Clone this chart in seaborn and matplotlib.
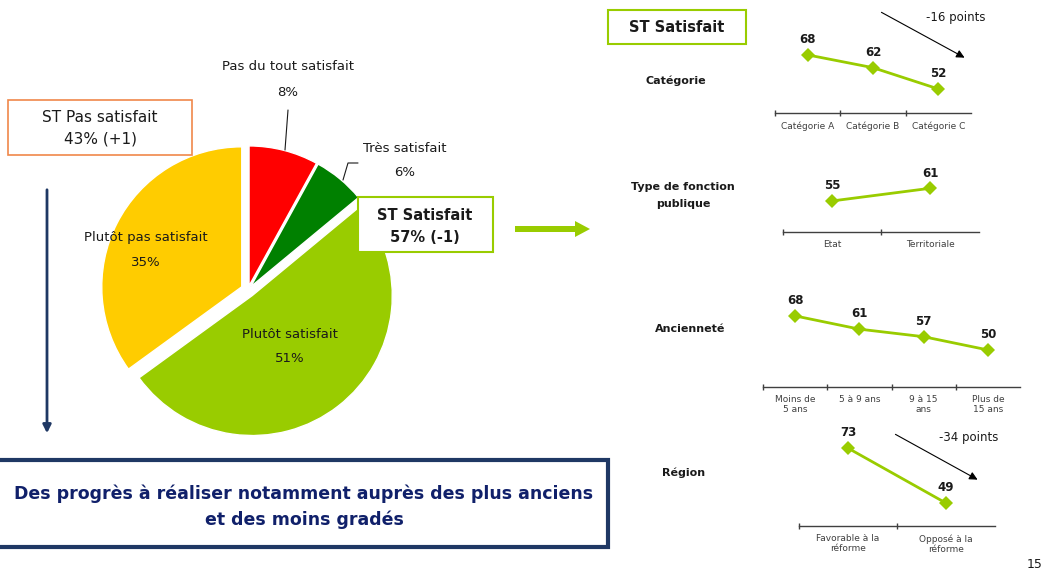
import matplotlib.pyplot as plt
import matplotlib.patches as mpatches
import seaborn as sns
import numpy as np

sns.set_style("white")
plt.rcParams['font.family'] = ['DejaVu Sans']

W, H = 1046, 575

# Pie data (clockwise from the top)
pie_labels = ['Pas du tout satisfait', 'Très satisfait', 'Plutôt satisfait', 'Plutôt pas satisfait']
pie_values = [8, 6, 51, 35]
pie_colors = ['#FF0000', '#008000', '#99CC00', '#FFCC00']

# Breakdown of "ST Satisfait"
cat_labels = ['Catégorie A', 'Catégorie B', 'Catégorie C']
cat_values = [68, 62, 52]
fp_labels = ['Etat', 'Territoriale']
fp_values = [55, 61]
anc_labels = ['Moins de\n5 ans', '5 à 9 ans', '9 à 15\nans', 'Plus de\n15 ans']
anc_values = [68, 61, 57, 50]
reg_labels = ['Favorable à la\nréforme', 'Opposé à la\nréforme']
reg_values = [73, 49]

LINE_GREEN = '#99CC00'
NAVY = '#1F3864'
TXT = '#1a1a1a'


def px_rect(x0, y0, x1, y1):
    return [x0 / W, 1 - y1 / H, (x1 - x0) / W, (y1 - y0) / H]


fig = plt.figure(figsize=(W / 100, H / 100), dpi=100)

# Pie
R = 140
cx, cy = 248, 290
A = 165
pax = fig.add_axes(px_rect(cx - A, cy - A, cx + A, cy + A))
pax.pie(pie_values, colors=pie_colors, startangle=90, counterclock=False,
        explode=[0.03, 0.03, 0.05, 0.05],
        wedgeprops=dict(edgecolor='white', linewidth=1))
pax.set_xlim(-A / R, A / R)
pax.set_ylim(-A / R, A / R)
pax.axis('off')


def small_line(rect, labels, values, ylim):
    ax = fig.add_axes(px_rect(*rect))
    x = np.arange(len(values))
    sns.lineplot(x=x, y=values, ax=ax, color=LINE_GREEN, lw=2,
                 marker='D', markersize=7, markeredgewidth=0)
    for xi, v in zip(x, values):
        ax.annotate(str(v), (xi, v), xytext=(0, 11), textcoords='offset points',
                    ha='center', va='center', fontsize=8.5, fontweight='bold', color=TXT)
    ax.set_xlim(-0.5, len(values) - 0.5)
    ax.set_ylim(*ylim)
    ax.set_yticks([])
    ax.set_xticks(x)
    ax.set_xticklabels(labels, fontsize=6.5, color='#404040', linespacing=1.1)
    ax.set_xticks(x - 0.5, minor=True)
    ax.tick_params(axis='x', which='major', bottom=True, length=0, pad=6)
    ax.tick_params(axis='x', which='minor', bottom=True, length=5, direction='inout',
                   color='#404040', width=1)
    for s in ['top', 'left', 'right']:
        ax.spines[s].set_visible(False)
    ax.spines['bottom'].set_color('#404040')
    ax.spines['bottom'].set_linewidth(1)
    ax.set_facecolor('none')
    ax.grid(False)
    return ax


small_line((775, 33, 971, 113), cat_labels, cat_values, (40.7, 78.3))
small_line((783, 152, 979, 232), fp_labels, fp_values, (40.3, 78.2))
small_line((763, 297, 1020, 387), anc_labels, anc_values, (30.4, 78.0))
small_line((799, 436, 995, 526), reg_labels, reg_values, (39.0, 78.3))

# Overlay in pixel coordinates for boxes, arrows and texts
ov = fig.add_axes([0, 0, 1, 1])
ov.set_xlim(0, W)
ov.set_ylim(H, 0)
ov.axis('off')

# Pie labels
ov.text(288, 67, 'Pas du tout satisfait', ha='center', va='center', fontsize=9.5, color=TXT)
ov.text(288, 92, '8%', ha='center', va='center', fontsize=9.5, color=TXT)
ov.plot([288, 285], [110, 150], color=TXT, lw=0.8)
ov.text(405, 148, 'Très satisfait', ha='center', va='center', fontsize=9.5, color=TXT)
ov.text(405, 172, '6%', ha='center', va='center', fontsize=9.5, color=TXT)
ov.plot([358, 348, 343], [163, 163, 180], color=TXT, lw=0.8)
ov.text(146, 238, 'Plutôt pas satisfait', ha='center', va='center', fontsize=9.5, color=TXT)
ov.text(146, 262, '35%', ha='center', va='center', fontsize=9.5, color=TXT)
ov.text(290, 334, 'Plutôt satisfait', ha='center', va='center', fontsize=9.5, color=TXT)
ov.text(290, 358, '51%', ha='center', va='center', fontsize=9.5, color=TXT)

# ST Pas satisfait box
ov.add_patch(mpatches.Rectangle((8, 100), 184, 55, facecolor='white',
                                edgecolor='#F0884A', lw=1.2))
ov.text(100, 117, 'ST Pas satisfait', ha='center', va='center', fontsize=11, color=TXT)
ov.text(100, 139, '43% (+1)', ha='center', va='center', fontsize=11, color=TXT)

# ST Satisfait box over the pie
ov.add_patch(mpatches.Rectangle((358, 197), 135, 55, facecolor='white',
                                edgecolor=LINE_GREEN, lw=1.5))
ov.text(425, 215, 'ST Satisfait', ha='center', va='center', fontsize=10.5,
        fontweight='bold', color=TXT)
ov.text(425, 238, '57% (-1)', ha='center', va='center', fontsize=10.5,
        fontweight='bold', color=TXT)

# Green arrow to the breakdown
ov.add_patch(mpatches.FancyArrow(515, 229, 75, 0, width=6, head_width=16,
                                 head_length=15, length_includes_head=True,
                                 color=LINE_GREEN, lw=0))

# Blue vertical arrow
ov.annotate('', xy=(47, 436), xytext=(47, 187),
            arrowprops=dict(arrowstyle='-|>', color=NAVY, lw=2, mutation_scale=12))

# Conclusion box
ov.add_patch(mpatches.Rectangle((-5, 460), 613, 87, facecolor='white',
                                edgecolor=NAVY, lw=3))
ov.text(304, 494, 'Des progrès à réaliser notamment auprès des plus anciens',
        ha='center', va='center', fontsize=12.5, fontweight='bold', color='#10206A')
ov.text(304, 520, 'et des moins gradés',
        ha='center', va='center', fontsize=12.5, fontweight='bold', color='#10206A')

# Right side header and row titles
ov.add_patch(mpatches.Rectangle((608, 10), 138, 34, facecolor='white',
                                edgecolor=LINE_GREEN, lw=1.5))
ov.text(677, 27, 'ST Satisfait', ha='center', va='center', fontsize=10.5,
        fontweight='bold', color=TXT)
ov.text(676, 81, 'Catégorie', ha='center', va='center', fontsize=8, fontweight='bold', color=TXT)
ov.text(683, 187, 'Type de fonction', ha='center', va='center', fontsize=8, fontweight='bold', color=TXT)
ov.text(683, 204, 'publique', ha='center', va='center', fontsize=8, fontweight='bold', color=TXT)
ov.text(690, 329, 'Ancienneté', ha='center', va='center', fontsize=8, fontweight='bold', color=TXT)
ov.text(684, 473, 'Région', ha='center', va='center', fontsize=8, fontweight='bold', color=TXT)

# Gap arrows
ov.annotate('', xy=(967, 59), xytext=(879, 11),
            arrowprops=dict(arrowstyle='-|>', color='black', lw=0.8, mutation_scale=12))
ov.text(926, 17, '-16 points', ha='left', va='center', fontsize=8.5, color=TXT)
ov.annotate('', xy=(980, 481), xytext=(893, 433),
            arrowprops=dict(arrowstyle='-|>', color='black', lw=0.8, mutation_scale=12))
ov.text(939, 437, '-34 points', ha='left', va='center', fontsize=8.5, color=TXT)

# Page number
ov.text(1043, 564, '15', ha='right', va='center', fontsize=9, color=TXT)

fig.savefig('out.png', dpi=100)
